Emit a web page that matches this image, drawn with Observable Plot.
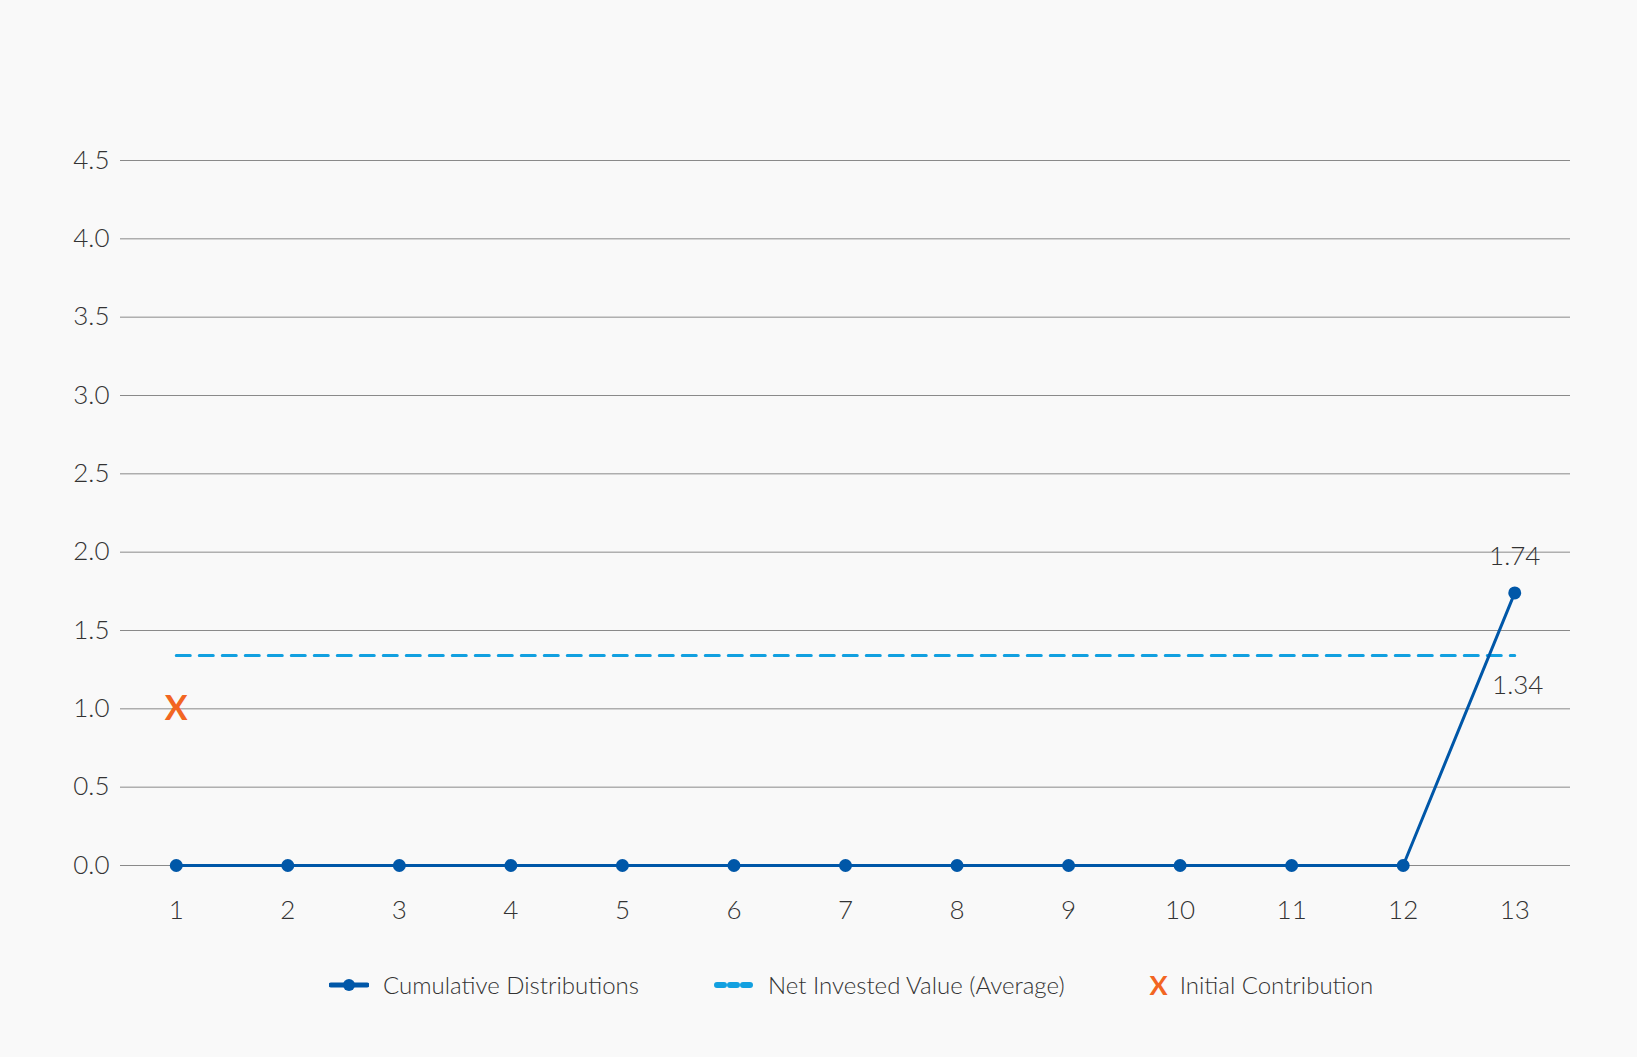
<!DOCTYPE html>
<html><head><meta charset="utf-8">
<script src="https://cdn.jsdelivr.net/npm/d3@7"></script>
<script src="https://cdn.jsdelivr.net/npm/@observablehq/plot@0.6"></script>
<style>
html,body{margin:0;padding:0;background:#f9f9f9;}
body{width:1637px;height:1057px;overflow:hidden;font-family:Lato,"Open Sans",sans-serif;font-weight:300;}
#legend{position:absolute;top:968px;left:329px;display:flex;align-items:center;font-size:24px;color:#333;}
.item{display:flex;align-items:center;}
.sw{display:inline-block;width:40px;height:20px;margin-right:14px;}
</style></head>
<body>
<div id="chart"></div>
<div id="legend">
 <div class="item" style="margin-right:75px"><svg class="sw" viewBox="0 0 40 20"><line x1="2" y1="10" x2="38" y2="10" stroke="#0057a8" stroke-width="5" stroke-linecap="round"/><circle cx="20" cy="10" r="6" fill="#0057a8"/></svg>Cumulative Distributions</div>
 <div class="item" style="margin-right:85px"><svg class="sw" viewBox="0 0 40 20"><line x1="3" y1="10" x2="37" y2="10" stroke="#12a0e0" stroke-width="6" stroke-dasharray="7 6" stroke-linecap="round"/></svg>Net Invested Value (Average)</div>
 <div class="item"><span style="color:#f26522;font-weight:700;font-size:27px;margin-right:12px">X</span>Initial Contribution</div>
</div>
<script>
const periods = [1,2,3,4,5,6,7,8,9,10,11,12,13];
const cumulative = [0,0,0,0,0,0,0,0,0,0,0,0,1.74];
const netInvested = 1.34;
const initialContribution = {period: 1, value: 1.0};
const yTicks = [0,0.5,1,1.5,2,2.5,3,3.5,4,4.5];

const cum = periods.map((p,i)=>({period:p, value:cumulative[i]}));
const net = [{period:periods[0], value:netInvested},{period:periods[periods.length-1], value:netInvested}];
const last = cum[cum.length-1];

const chart = Plot.plot({
  width:1637, height:940,
  marginTop:160, marginBottom:75, marginLeft:120, marginRight:67,
  style:{background:"transparent", fontFamily:"Lato, 'Open Sans', sans-serif", fontWeight:300, color:"#333"},
  x:{domain:[0.5,13.5]},
  y:{domain:[0,4.5]},
  marks:[
    Plot.gridY(yTicks,{stroke:"#8a8a8a", strokeOpacity:1, strokeWidth:1}),
    Plot.axisY(yTicks,{tickSize:0, tickPadding:11, fontSize:26, tickFormat:d=>d.toFixed(1), label:null, fill:"#333"}),
    Plot.axisX(periods,{tickSize:0, tickPadding:35, fontSize:26, tickFormat:d=>String(d), label:null, fill:"#333"}),
    Plot.line(net,{x:"period", y:"value", stroke:"#12a0e0", strokeWidth:3, strokeDasharray:"14 9"}),
    Plot.line(cum,{x:"period", y:"value", stroke:"#0057a8", strokeWidth:3}),
    Plot.dot(cum,{x:"period", y:"value", r:6.5, fill:"#0057a8"}),
    Plot.text([initialContribution],{x:"period", y:"value", text:()=>"X", fill:"#f26522", fontSize:34, fontWeight:700}),
    Plot.text([last],{x:"period", y:"value", text:d=>d.value.toFixed(2), dy:-36, fontSize:26, fill:"#333"}),
    Plot.text([net[1]],{x:"period", y:"value", text:d=>d.value.toFixed(2), dy:30, dx:3, fontSize:26, fill:"#333"})
  ]
});
document.getElementById("chart").appendChild(chart);
</script>
</body></html>
